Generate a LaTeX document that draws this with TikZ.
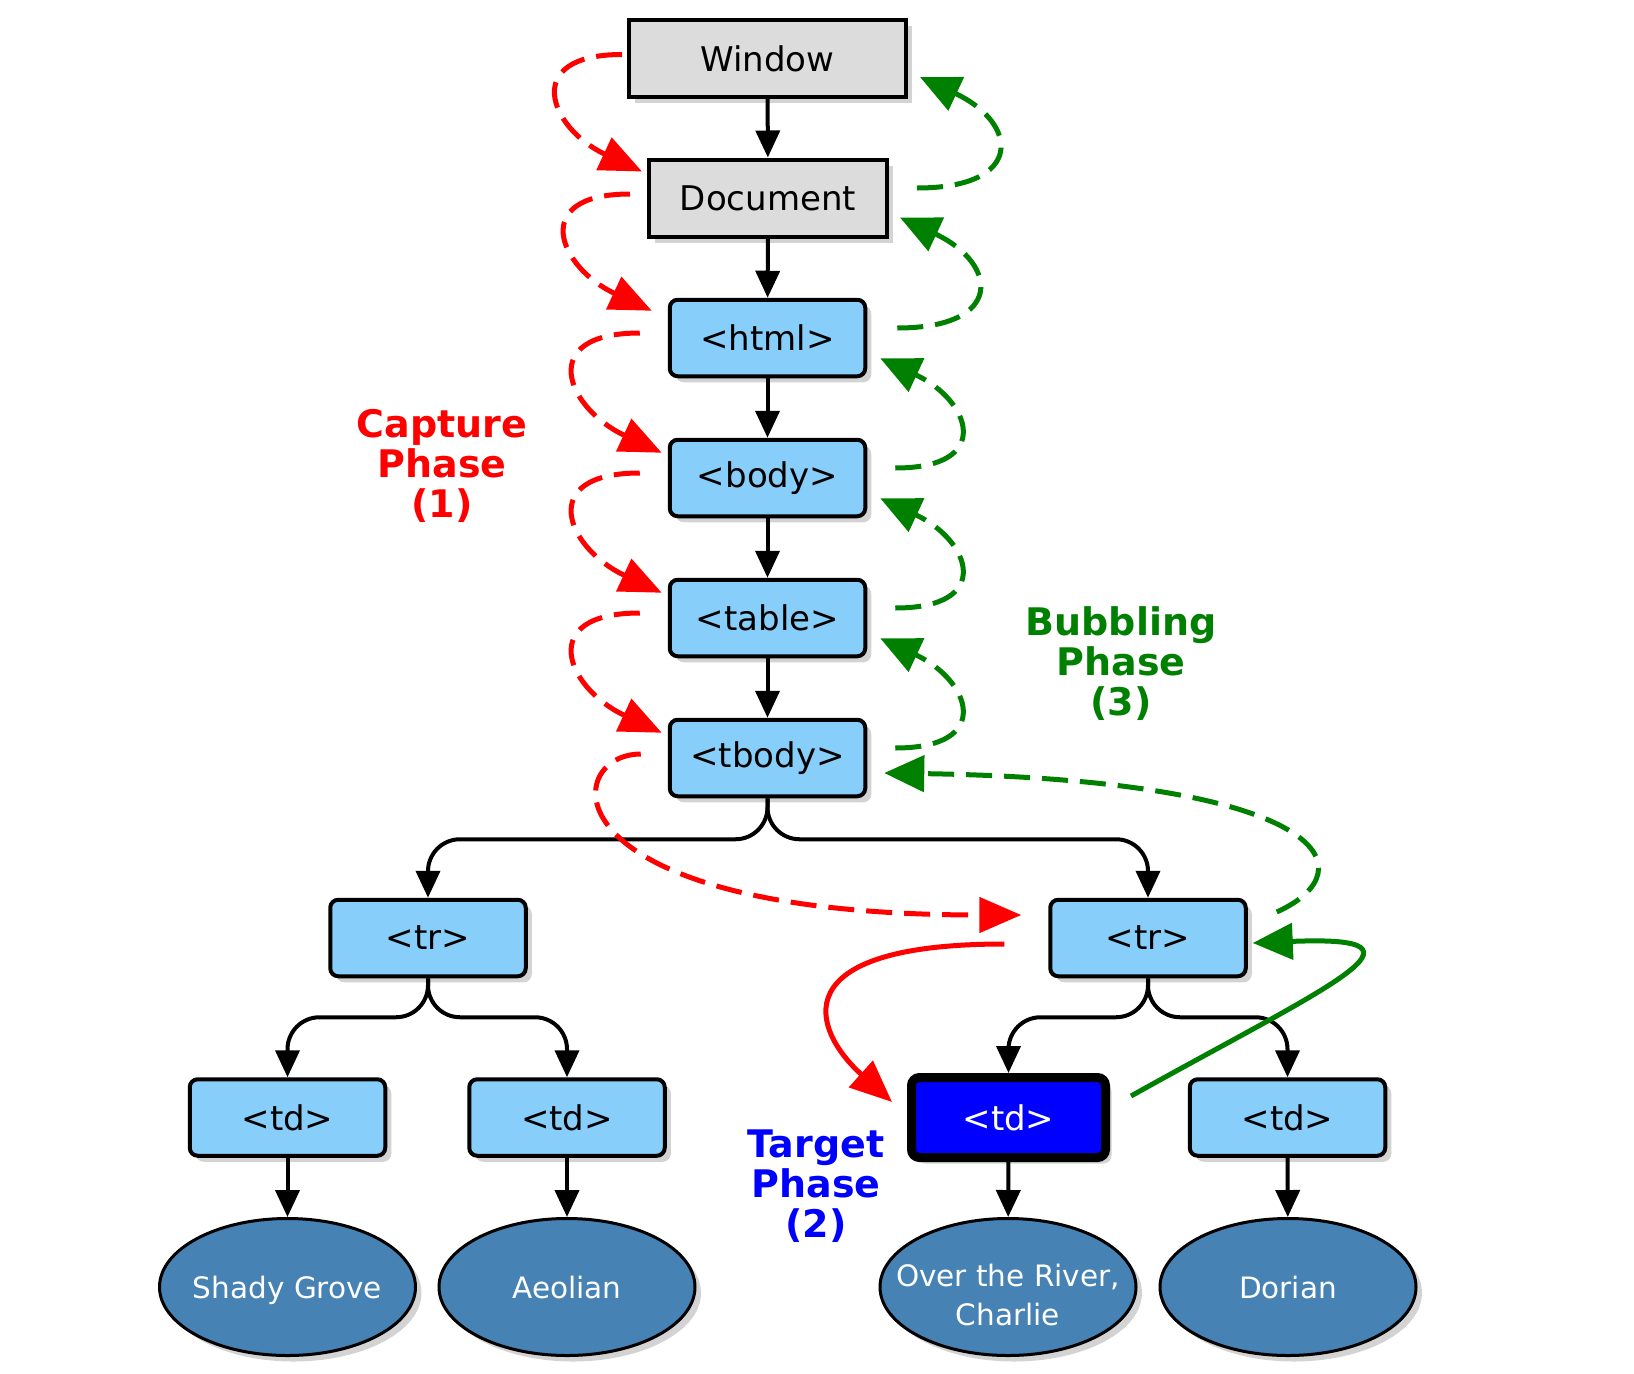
\documentclass[tikz,border=0pt]{standalone}
\usepackage{fontspec}
\setmainfont{DejaVu Sans}
\usetikzlibrary{arrows.meta,shadows,shapes.geometric}
\definecolor{boxgrey}{RGB}{220,220,220}
\definecolor{boxblue}{RGB}{135,206,250}
\definecolor{songblue}{RGB}{70,130,180}
\definecolor{dgreen}{RGB}{0,128,0}

\begin{document}
\begin{tikzpicture}[x=1pt, y=-1pt,
  boxshadow/.style={drop shadow={shadow xshift=6pt, shadow yshift=-6pt, opacity=0.35}},
  topbox/.style={draw, line width=4pt, fill=boxgrey, boxshadow, inner sep=0pt,
    minimum height=77pt, font=\fontsize{34}{40}\selectfont},
  elem/.style={draw, line width=4pt, fill=boxblue, rounded corners=8pt, boxshadow,
    inner sep=0pt, minimum width=195.5pt, minimum height=76.5pt, font=\fontsize{34}{40}\selectfont},
  hit/.style={elem, line width=9pt, fill=blue, text=white, minimum width=194pt, minimum height=80pt},
  song/.style={draw, ellipse, line width=3pt, fill=songblue, text=white, boxshadow,
    inner xsep=-60pt, inner ysep=0pt, minimum width=256pt, minimum height=137pt,
    align=center, font=\fontsize{29.5}{39}\selectfont},
  phase/.style={align=center, inner sep=0pt, font=\fontsize{38}{40}\selectfont\bfseries},
  link/.style={line width=4pt, -{Triangle[length=27pt,width=24pt]}},
  fork/.style={link, rounded corners=32pt},
  captline/.style={red, line width=5pt, -{Triangle[length=42pt,width=35pt]}},
  capt/.style={captline, dash pattern=on 26pt off 12pt},
  bubbline/.style={dgreen, line width=5pt, -{Triangle[length=40pt,width=36pt]}},
  bubb/.style={bubbline, dash pattern=on 26pt off 12pt}]
  \useasboundingbox (0,0) rectangle (1634,1374);

  \node[topbox, minimum width=277pt] (window) at (767.5,58.5) {Window};
  \node[topbox, minimum width=238pt] (document) at (768,198) {Document};
  \node[elem] (html) at (767.5,338) {<html>};
  \node[elem] (body) at (767.5,478) {<body>};
  \node[elem] (table) at (767.5,618) {<table>};
  \node[elem] (tbody) at (767.5,758) {<tbody>};
  \node[elem] (trleft) at (428,938) {<tr>};
  \node[elem] (trright) at (1148,938) {<tr>};
  \node[elem] (tdone) at (287.5,1117.5) {<td>};
  \node[elem] (tdtwo) at (567,1117.5) {<td>};
  \node[hit] (tdtarget) at (1008.5,1117.5) {<td>};
  \node[elem] (tdfour) at (1287.5,1117.5) {<td>};
  \node[song, text depth=0pt] (shady) at (287.5,1287) {Shady Grove};
  \node[song] (aeolian) at (567,1287) {Aeolian};
  \node[song] (river) at (1008,1287) {\rule{0pt}{38pt}Over the River,\\Charlie};
  \node[song] (dorian) at (1288,1287) {Dorian};

  \node[phase, red] (capture) at (442,466) {Capture\\Phase\\(1)};
  \node[phase, dgreen] (bubbling) at (1121,664) {Bubbling\\Phase\\(3)};
  \node[phase, blue] (target) at (816,1186) {Target\\Phase\\(2)};

  \draw[link] (window) -- (document);
  \draw[link] (document) -- (html);
  \draw[link] (html) -- (body);
  \draw[link] (body) -- (table);
  \draw[link] (table) -- (tbody);
  \draw[fork] (tbody.south) -- ++(0,41) -| (trleft.north);
  \draw[fork] (tbody.south) -- ++(0,41) -| (trright.north);
  \draw[fork] (trleft.south) -- ++(0,39) -| (tdone.north);
  \draw[fork] (trleft.south) -- ++(0,39) -| (tdtwo.north);
  \draw[fork] (trright.south) -- ++(0,39) -| (tdtarget.north);
  \draw[fork] (trright.south) -- ++(0,39) -| (tdfour.north);
  \draw[link] (tdone) -- (shady);
  \draw[link] (tdtwo) -- (aeolian);
  \draw[link] (tdtarget) -- (river);
  \draw[link] (tdfour) -- (dorian);

  \draw[capt] ([shift={(-5,-4)}]window.west) to[out=180,in=155,looseness=2.2] ([shift={(-5,14)}]document.north west);
  \draw[capt] ([shift={(-17,-4)}]document.west) to[out=180,in=155,looseness=2.2] ([shift={(-16,13)}]html.north west);
  \draw[capt] ([shift={(-28,-5)}]html.west) to[out=180,in=155,looseness=2.2] ([shift={(-6,15)}]body.north west);
  \draw[capt] ([shift={(-28,-5)}]body.west) to[out=180,in=155,looseness=2.2] ([shift={(-6,15)}]table.north west);
  \draw[capt] ([shift={(-28,-5)}]table.west) to[out=180,in=155,looseness=2.2] ([shift={(-6,15)}]tbody.north west);
  \draw[capt] ([shift={(-27,-4)}]tbody.west) .. controls +(-80,0) and +(-480,0) .. ([shift={(-27,-23)}]trright.west);
  \draw[captline] ([shift={(-44,6)}]trright.west) .. controls +(-224,0) and +(-80,-72) .. ([shift={(-15,29)}]tdtarget.north west);

  \draw[bubbline] ([shift={(21,23)}]tdtarget.north east) .. controls +(199,-111) and +(195,-8) .. ([shift={(5,5)}]trright.east);
  \draw[bubb] ([shift={(29,-26)}]trright.east) .. controls +(93,-42) and +(446,7) .. ([shift={(17,15)}]tbody.east);
  \draw[bubb] ([shift={(28,-10)}]tbody.east) to[out=0,in=-25,looseness=2.3] ([shift={(13,-20)}]table.south east);
  \draw[bubb] ([shift={(28,-10)}]table.east) to[out=0,in=-25,looseness=2.3] ([shift={(13,-20)}]body.south east);
  \draw[bubb] ([shift={(28,-10)}]body.east) to[out=0,in=-25,looseness=2.3] ([shift={(13,-20)}]html.south east);
  \draw[bubb] ([shift={(30,-10)}]html.east) to[out=0,in=-25,looseness=2.5] ([shift={(11,-21)}]document.south east);
  \draw[bubb] ([shift={(28,-10)}]document.east) to[out=0,in=-25,looseness=2.5] ([shift={(12,-22)}]window.south east);
\end{tikzpicture}
\end{document}
